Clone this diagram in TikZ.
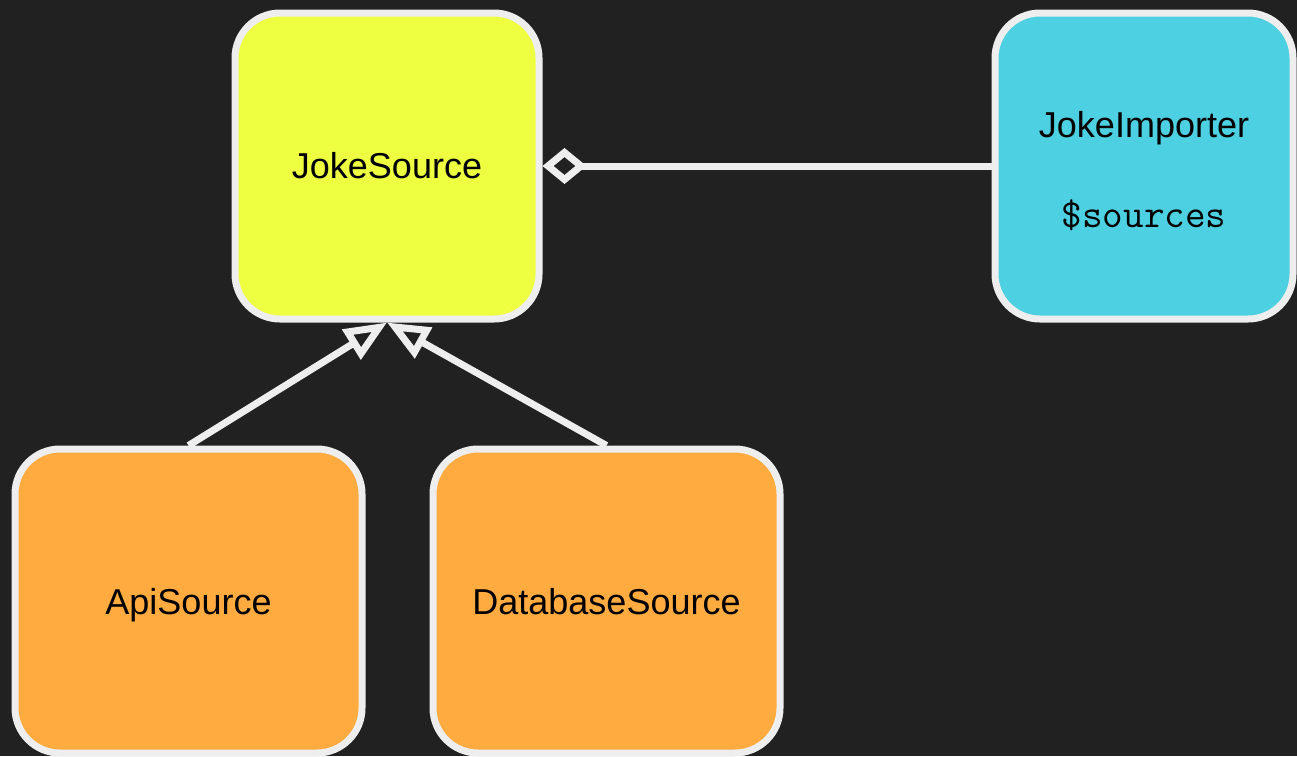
\documentclass[tikz,border=0pt]{standalone}
\usepackage{fontspec}
\setmainfont{Liberation Sans}
\setmonofont{Latin Modern Mono}
\usetikzlibrary{arrows.meta,positioning}
\definecolor{bg}{HTML}{212121}
\definecolor{rim}{HTML}{EEEEEE}
\definecolor{limefill}{HTML}{EEFF41}
\definecolor{cyanfill}{HTML}{4DD0E1}
\definecolor{orangefill}{HTML}{FFAB40}
\begin{document}
\begin{tikzpicture}[x=1pt,y=-1pt,every node/.append style={align=center},
    cls/.style={draw=rim, line width=7pt, rounded corners=45pt, text=black, font=\fontsize{36pt}{43pt}\selectfont},
    sub/.style={cls, fill=orangefill, minimum width=347pt, minimum height=304pt, text depth=0pt},
    inherit/.style={draw=rim, line width=7pt, -{Triangle[open,length=42pt,width=34pt]}},
    link/.style={draw=rim, line width=7pt}]
                \useasboundingbox (0,0) rectangle (1297,756);
                \fill[bg] (0,0) rectangle (1297,756);
                \node [cls, fill=limefill, minimum width=304pt, minimum height=306pt] (js) at (387,166) {JokeSource};
                \node [cls, fill=cyanfill, minimum width=298pt, minimum height=306pt, right=449pt of js] (ji) {\rule{0pt}{36pt}JokeImporter\\[47pt]{\fontsize{40pt}{43pt}\selectfont\texttt{\$sources}}};
                \node [sub] (api) at (188.5,601) {ApiSource};
                \node [sub, right=64pt of api] (db) {DatabaseSource};
                \path (api.north) edge[inherit] (js.south)
                (db.north) edge[inherit] (js.south);
                \draw[link, {Diamond[open,length=44pt,width=36pt]}-] (js.east) -- (ji.west);
            \end{tikzpicture}
\end{document}
